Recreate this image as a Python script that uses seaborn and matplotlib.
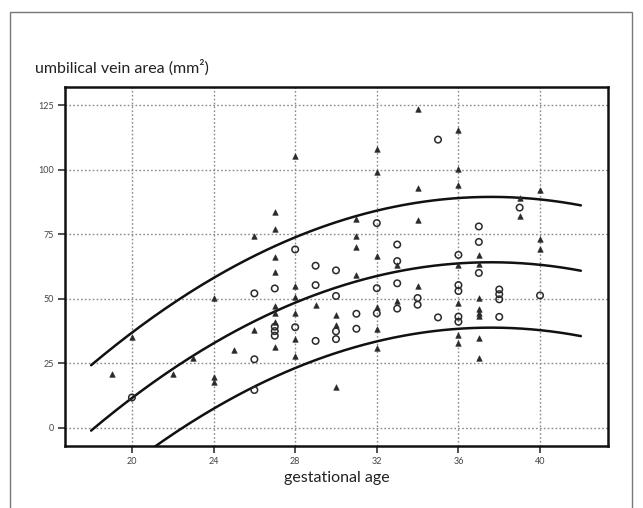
import numpy as np
import pandas as pd
import matplotlib
matplotlib.use("Agg")
import matplotlib.pyplot as plt
from matplotlib.patches import Rectangle
import seaborn as sns

# ---- data ----
tri_age = [19, 20, 22, 23,
           24, 24, 24, 25,
           26, 26,
           27, 27, 27, 27, 27, 27, 27, 27,
           28, 28, 28, 28, 28, 28,
           29, 30, 30, 30,
           31, 31, 31, 31,
           32, 32, 32, 32, 32, 32,
           33, 33,
           34, 34, 34, 34,
           36, 36, 36, 36, 36, 36, 36,
           37, 37, 37, 37, 37, 37, 37, 37,
           39, 39, 40, 40, 40]
tri_area = [20.9, 35.3, 21.0, 27.2,
            50.3, 19.8, 17.8, 30.2,
            74.3, 37.9,
            83.5, 77.0, 66.1, 60.2, 47.3, 44.5, 41.1, 31.2,
            105.3, 55.1, 50.6, 44.4, 34.4, 27.8,
            47.6, 43.8, 40.0, 16.0,
            81.0, 74.3, 70.2, 59.3,
            108.1, 99.0, 66.6, 46.8, 38.2, 31.0,
            63.2, 49.2,
            123.5, 92.8, 80.6, 55.0,
            115.5, 100.2, 94.2, 63.0, 48.3, 35.8, 32.7,
            67.0, 63.5, 50.3, 46.0, 44.5, 43.5, 34.7, 27.2,
            89.0, 82.0, 92.0, 73.1, 69.1]

circ_age = [20, 26, 26, 26,
            27, 27, 27, 27,
            28, 28, 29, 29, 29,
            30, 30, 30, 30,
            31, 31, 32, 32, 32,
            33, 33, 33, 33,
            34, 34, 35, 35,
            36, 36, 36, 36, 36,
            37, 37, 37,
            38, 38, 38, 38,
            39, 40]
circ_area = [11.8, 52.1, 26.6, 14.7,
             54.0, 39.2, 37.5, 35.7,
             69.1, 39.0, 62.8, 55.3, 33.7,
             61.0, 51.1, 37.4, 34.4,
             44.2, 38.4, 79.3, 54.1, 44.4,
             71.0, 64.6, 56.0, 46.2,
             50.3, 47.7, 111.6, 42.8,
             67.0, 55.3, 53.0, 43.1, 41.1,
             78.0, 72.0, 60.0,
             53.6, 51.8, 49.8, 43.0,
             85.3, 51.3]

# quadratic reference curve (mean) and prediction band half-width
fit_center = 28.0
fit_intercept = 48.5
fit_linear = 3.256
fit_quad = -0.1695
band_halfwidth = 25.3
fit_range = (18.0, 42.0)

x_ticks = [20, 24, 28, 32, 36, 40]
y_ticks = [0, 25, 50, 75, 100, 125]

# ---- figure ----
sns.set_theme(style="white")
plt.rcParams["font.family"] = ["Lato", "DejaVu Sans"]

fig = plt.figure(figsize=(6.43, 5.08), dpi=100)
fig.patch.set_facecolor("white")
ax = fig.add_axes([65/643, 1-446/508, (608-65)/643, (446-87)/508])

# curves
ages = np.linspace(fit_range[0], fit_range[1], 200)
t = ages - fit_center
mean = fit_intercept + fit_linear * t + fit_quad * t**2
curves = pd.DataFrame({
    "age": np.concatenate([ages, ages, ages]),
    "area": np.concatenate([mean + band_halfwidth, mean, mean - band_halfwidth]),
    "curve": ["upper"] * len(ages) + ["mean"] * len(ages) + ["lower"] * len(ages),
})
sns.lineplot(data=curves, x="age", y="area", units="curve", estimator=None,
             color="#111111", linewidth=1.8, ax=ax, zorder=4)

tri = pd.DataFrame({"age": tri_age, "area": tri_area})
circ = pd.DataFrame({"age": circ_age, "area": circ_area})
sns.scatterplot(data=tri, x="age", y="area", marker="^", s=16,
                color="#2a2a2a", edgecolor="#2a2a2a", linewidth=0.4,
                ax=ax, zorder=5)
sns.scatterplot(data=circ, x="age", y="area", marker="o", s=22,
                facecolor="none", edgecolor="#2a2a2a", linewidth=1.1,
                ax=ax, zorder=5)

ax.set_xlim(16.72, 43.33)
ax.set_ylim(-6.97, 131.97)
ax.set_xticks(x_ticks)
ax.set_yticks(y_ticks)
ax.set_xticklabels([str(v) for v in x_ticks])
ax.set_yticklabels([str(v) for v in y_ticks])
ax.tick_params(axis="both", which="major", direction="out", length=5,
               width=1.2, color="#333333", labelsize=6.5, labelcolor="#444444",
               pad=3, bottom=True, left=True)
ax.grid(True, linestyle=(0, (1.2, 1.6)), color="#8a8a8a", linewidth=1.0)
ax.set_axisbelow(True)
for sp in ax.spines.values():
    sp.set_visible(True)
    sp.set_color("#111111")
    sp.set_linewidth(1.8)
ax.set_xlabel("")
ax.set_ylabel("")
ax.set_facecolor("white")

fig.text(35/643, 1-68/508, "umbilical vein area (mm²)", fontsize=11.5,
         color="#222222", ha="left", va="center")
fig.text(337/643, 1-478/508, "gestational age", fontsize=11.5,
         color="#222222", ha="center", va="center")

# outer frame of the figure panel
fig.patches.append(Rectangle((10/643, -0.02), (632-10)/643, 1-12/508+0.02,
                             transform=fig.transFigure, fill=False,
                             edgecolor="#777777", linewidth=1.0))

fig.savefig("out.png", dpi=100, facecolor="white")
